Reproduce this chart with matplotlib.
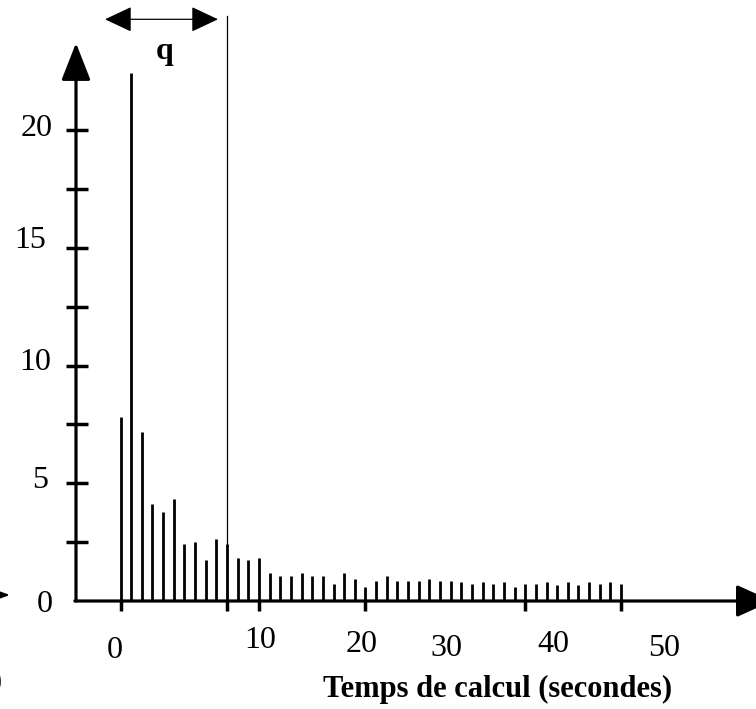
import matplotlib
matplotlib.use('Agg')
import matplotlib.pyplot as plt

# ---- data ----
bar_values = [7.83, 22.42, 7.16, 4.11, 3.77, 4.33, 2.41, 2.50, 1.73, 2.62, 2.41, 1.83, 1.73, 1.83,
              1.18, 1.05, 1.05, 1.18, 1.05, 1.05, 0.71, 1.18, 0.92, 0.58, 0.84, 1.05, 0.84, 0.84,
              0.84, 0.92, 0.84, 0.84,
              0.79, 0.72, 0.79, 0.72, 0.79, 0.60, 0.72, 0.72, 0.79, 0.68, 0.79, 0.68, 0.79, 0.72,
              0.79, 0.72]
bar_index = list(range(len(bar_values)))
ytick_labels = ['0', '5', '10', '15', '20']
ytick_values = [0, 5, 10, 15, 20]
yminor_values = [2.5, 5, 7.5, 10, 12.5, 15, 17.5, 20]
xtick_labels = ['0', '10', '20', '30', '40', '50']
xtick_label_pos = [-0.54, 13.1, 22.6, 30.6, 40.6, 51.0]
xtick_marks = [0, 10, 13, 23, 38, 47]
q_limit = 10
xlabel = 'Temps de calcul (secondes)'

# ---- pixel <-> data helpers (layout) ----
W, H = 756, 709
X0, SX = 120.5, 10.65
Y0, SY = 601.0, 23.55
def dx(px):
    return (px - X0) / SX
def dy(py):
    return (Y0 - py) / SY

FONT = 'Liberation Serif'

fig = plt.figure(figsize=(W / 100, H / 100), dpi=100)
ax = fig.add_axes([0, 0, 1, 1])
ax.set_xlim(dx(0), dx(W))
ax.set_ylim(dy(H), dy(0))
ax.axis('off')

# bars
ax.vlines(bar_index, 0, bar_values, colors='black', linewidth=2.0)

# axes with arrows
ax.annotate('', xy=(dx(76), dy(43)), xytext=(dx(76), 0), annotation_clip=False,
            arrowprops=dict(arrowstyle='-|>,head_length=23,head_width=9', mutation_scale=1,
                            lw=2.3, color='black', shrinkA=0, shrinkB=0))
ax.annotate('', xy=(dx(772), 0), xytext=(dx(74.8), 0), annotation_clip=False,
            arrowprops=dict(arrowstyle='-|>,head_length=22,head_width=10', mutation_scale=1,
                            lw=2.3, color='black', shrinkA=0, shrinkB=0))

# y ticks (crossing the axis)
for v in yminor_values:
    ax.plot([dx(66), dx(88)], [v, v], color='black', lw=2.5, solid_capstyle='butt')

# x tick marks (below the axis)
for t in xtick_marks:
    ax.plot([t, t], [0, dy(611)], color='black', lw=2.5, solid_capstyle='butt')

# y tick labels
ylab_x = [45, 40, 35, 30, 37]
ylab_y = [605, 481, 363, 241, 128]
for lab, lx, ly in zip(ytick_labels, ylab_x, ylab_y):
    ax.text(dx(lx), dy(ly), lab, ha='center', va='center', fontsize=23, family=FONT)

# x tick labels
xlab_y = [650, 641, 644, 648, 644, 648]
for lab, pos, ly in zip(xtick_labels, xtick_label_pos, xlab_y):
    ax.text(pos, dy(ly), lab, ha='center', va='center', fontsize=23, family=FONT)

# axis title
ax.text(dx(498), dy(689), xlabel, ha='center', va='center', fontsize=22,
        fontweight='bold', family=FONT)

# q threshold line and arrow
ax.plot([q_limit, q_limit], [0, dy(16)], color='black', lw=0.9)
ax.annotate('', xy=(dx(218), dy(19.3)), xytext=(dx(105), dy(19.3)), annotation_clip=False,
            arrowprops=dict(arrowstyle='<|-|>,head_length=17,head_width=8', mutation_scale=1,
                            lw=0.9, color='black', shrinkA=0, shrinkB=0))
ax.text(dx(165), dy(52), 'q', ha='center', va='center', fontsize=23,
        fontweight='bold', family=FONT)

# stray fragments at the left edge (partly outside the picture, as in the reference)
ax.annotate('', xy=(dx(10), dy(595)), xytext=(dx(-40), dy(595)), annotation_clip=False,
            arrowprops=dict(arrowstyle='-|>,head_length=14,head_width=5', mutation_scale=1,
                            lw=1.5, color='black', shrinkA=0, shrinkB=0))
ax.text(dx(-6), dy(684), '0', ha='center', va='center', fontsize=23, family=FONT)

fig.savefig('out.png', dpi=100)
